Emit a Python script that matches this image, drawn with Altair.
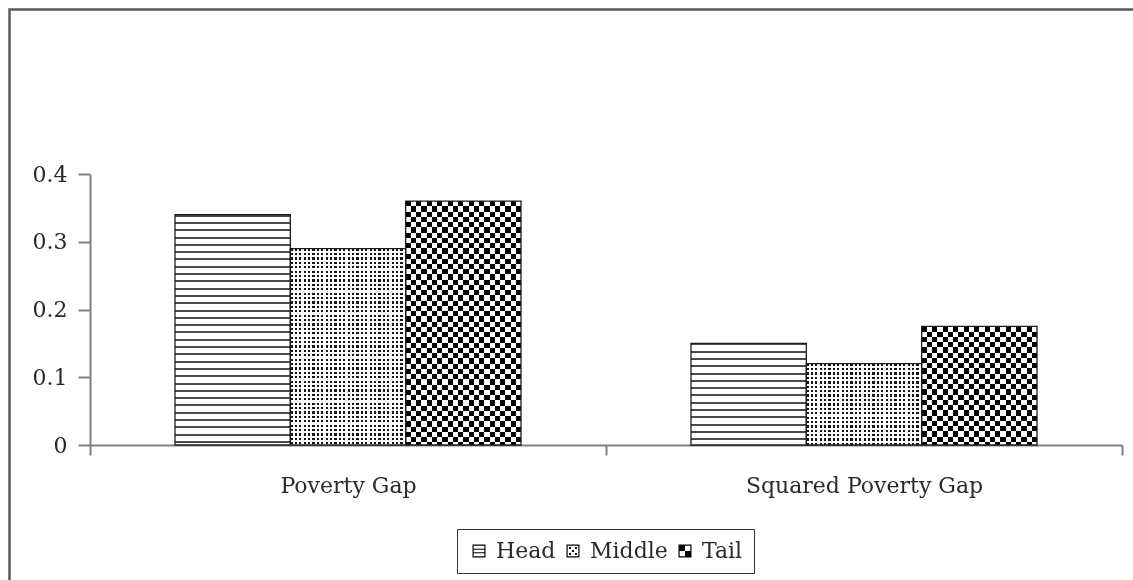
import altair as alt
import pandas as pd

# ---- data -------------------------------------------------------------
categories = ["Poverty Gap", "Squared Poverty Gap"]
series_names = ["Head", "Middle", "Tail"]
head_values = [0.34, 0.15]
middle_values = [0.29, 0.12]
tail_values = [0.36, 0.175]
y_ticks = [0, 0.1, 0.2, 0.3, 0.4]

rows = []
for s, vals in zip(series_names, [head_values, middle_values, tail_values]):
    for c, v in zip(categories, vals):
        rows.append({"category": c, "series": s, "value": v})
df = pd.DataFrame(rows)

# ---- layout -----------------------------------------------------------
PLOT_W, PLOT_H = 1032, 271
Y_MAX = y_ticks[-1]
OUTER = 0.737
BAR_W = PLOT_W / len(categories) / (len(series_names) + 2 * OUTER)
FONT = "DejaVu Serif"
TEXT = "#2a2a2a"
AXIS = "#808080"


def stripe_gradient(length, period, dark_len, dark, light, along_y):
    """Linear gradient with hard stops that reads as evenly spaced stripes."""
    stops = []
    pos = 0.0
    while pos < length - 1e-6:
        a = pos / length
        b = min(pos + dark_len, length) / length
        c = min(pos + period, length) / length
        stops += [
            {"offset": a, "color": dark},
            {"offset": b, "color": dark},
            {"offset": b, "color": light},
            {"offset": c, "color": light},
        ]
        pos += period
    direction = {"x1": 0, "y1": 0, "x2": 0, "y2": 1} if along_y else {"x1": 0, "y1": 0, "x2": 1, "y2": 0}
    return {"gradient": "linear", "stops": stops, **direction}


x_enc = alt.X(
    "category:N",
    sort=categories,
    scale=alt.Scale(domain=categories, paddingInner=0, paddingOuter=0),
    axis=alt.Axis(
        title=None,
        labelAngle=0,
        labelFont=FONT,
        labelFontSize=22,
        labelColor=TEXT,
        labelPadding=20,
        labelLimit=0,
        tickBand="extent",
        tickSize=10,
        tickWidth=2,
        tickColor=AXIS,
        domainColor=AXIS,
        domainWidth=2,
        grid=False,
    ),
)
xoff_enc = alt.XOffset(
    "series:N",
    sort=series_names,
    scale=alt.Scale(domain=series_names, paddingInner=0, paddingOuter=OUTER),
)
y_enc = alt.Y(
    "value:Q",
    scale=alt.Scale(domain=[0, Y_MAX], nice=False),
    axis=alt.Axis(
        title=None,
        values=y_ticks,
        format=".1~f",
        labelFont=FONT,
        labelFontSize=22,
        labelColor=TEXT,
        labelPadding=11,
        tickSize=12,
        tickWidth=2,
        tickColor=AXIS,
        domainColor=AXIS,
        domainWidth=2,
        grid=False,
    ),
)

base = alt.Chart(df).encode(x=x_enc, xOffset=xoff_enc, y=y_enc)

layers = []

# Legend carrier: invisible points whose shapes are small pattern glyphs
ring = "M-1,-1H1V1H-1Z M-0.82,-0.82V0.82H0.82V-0.82Z "
legend_paths = [
    ring + "M-0.82,-0.36H0.82V-0.2H-0.82Z M-0.82,0.2H0.82V0.36H-0.82Z",
    ring + "M-0.6,-0.6H-0.3V-0.3H-0.6Z M0.3,-0.6H0.6V-0.3H0.3Z M-0.15,-0.15H0.15V0.15H-0.15Z "
    "M-0.6,0.3H-0.3V0.6H-0.6Z M0.3,0.3H0.6V0.6H0.3Z",
    ring + "M-0.82,-0.82H0V0H-0.82Z M0,0H0.82V0.82H0Z",
]
layers.append(
    base.mark_point(filled=True, color="black", opacity=0).encode(
        shape=alt.Shape(
            "series:N",
            sort=series_names,
            scale=alt.Scale(domain=series_names, range=legend_paths),
            legend=alt.Legend(
                title=None,
                orient="none",
                legendX=367,
                legendY=355,
                direction="horizontal",
                labelFont=FONT,
                labelFontSize=22,
                labelColor=TEXT,
                labelOffset=6,
                symbolSize=169,
                symbolOpacity=1,
                symbolFillColor="black",
                symbolStrokeWidth=0,
                columnPadding=6,
                strokeColor="#333333",
                padding=11,
            ),
        )
    )
)

# Patterned bars, one layer (or pair of layers) per bar
CHECK = BAR_W / 22
for s, vals in zip(series_names, [head_values, middle_values, tail_values]):
    for c, v in zip(categories, vals):
        h = v / Y_MAX * PLOT_H
        sel = (alt.datum.category == c) & (alt.datum.series == s)
        if s == "Head":
            layers.append(
                base.transform_filter(sel).mark_bar(
                    fill=stripe_gradient(h, 7.3, 2.0, "#4a4a4a", "#ffffff", True)
                )
            )
        elif s == "Middle":
            layers.append(
                base.transform_filter(sel).mark_bar(
                    fill=stripe_gradient(BAR_W, 4.4, 2.3, "#151515", "#ffffff", False)
                )
            )
            layers.append(
                base.transform_filter(sel).mark_bar(
                    fill=stripe_gradient(h, 4.4, 2.3, "rgba(255,255,255,0)", "#ffffff", True)
                )
            )
        else:
            layers.append(
                base.transform_filter(sel).mark_bar(
                    fill=stripe_gradient(BAR_W, 2 * CHECK, CHECK, "#000000", "#ffffff", False)
                )
            )
            layers.append(
                base.transform_filter(sel).mark_bar(
                    fill=stripe_gradient(h, 2 * CHECK, CHECK, "rgba(255,255,255,0)", "#ffffff", True),
                    blend="difference",
                )
            )

# Bar outlines
layers.append(base.mark_bar(fillOpacity=0, stroke="#1e1e1e", strokeWidth=1.3))

# Outer frame around the whole figure
frame = (
    alt.Chart(pd.DataFrame({"k": [0]}))
    .mark_rect(fillOpacity=0, stroke="#5a5a5a", strokeWidth=2.5)
    .encode(
        x=alt.value(-80.5),
        x2=alt.value(1050),
        y=alt.value(-164.5),
        y2=alt.value(415),
    )
)

chart = (
    alt.layer(frame, *layers)
    .properties(
        width=PLOT_W,
        height=PLOT_H,
        autosize=alt.AutoSizeParams(type="none"),
        padding={"left": 90, "top": 174, "right": 11, "bottom": 135},
        background="white",
    )
    .configure_view(stroke=None)
)

chart.save("out.html", embed_options={"renderer": "svg", "actions": False})
